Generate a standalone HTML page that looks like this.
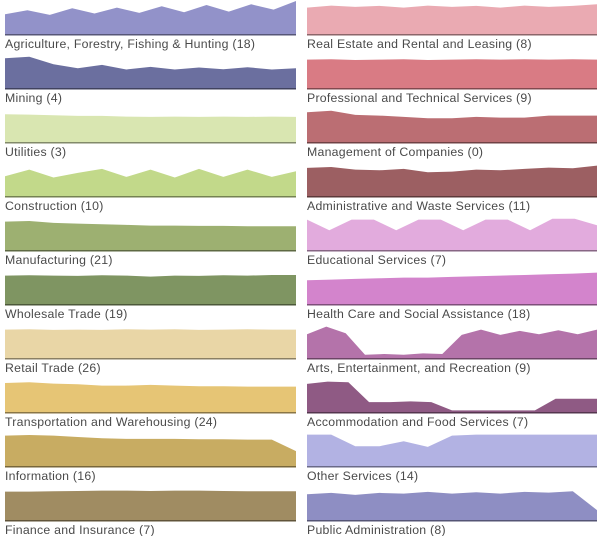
<!DOCTYPE html>
<html><head><meta charset="utf-8"><style>
body{margin:0;background:#fff;width:599px;height:536px;overflow:hidden;font-family:"Liberation Sans",sans-serif}
svg{display:block}
</style></head><body>
<svg id="chart" width="599" height="536"></svg>
<script>
const categories=["Agriculture, Forestry, Fishing & Hunting (18)","Mining (4)","Utilities (3)","Construction (10)","Manufacturing (21)","Wholesale Trade (19)","Retail Trade (26)","Transportation and Warehousing (24)","Information (16)","Finance and Insurance (7)","Real Estate and Rental and Leasing (8)","Professional and Technical Services (9)","Management of Companies (0)","Administrative and Waste Services (11)","Educational Services (7)","Health Care and Social Assistance (18)","Arts, Entertainment, and Recreation (9)","Accommodation and Food Services (7)","Other Services (14)","Public Administration (8)"];
const colors=["#9292c9","#6b6f9f","#d9e6b1","#c2d98a","#9db071","#7f9562","#e9d6a6","#e6c575","#c8ac62","#a08c62","#eaaab2","#d97b84","#bb6e73","#9c5f62","#e2abdd","#d384cc","#b473aa","#8f5a84","#b2b2e3","#8e8ec3"];
const s0=[0.6,0.72,0.58,0.78,0.62,0.8,0.64,0.84,0.66,0.88,0.68,0.9,0.74,1.0];
const s1=[0.9,0.95,0.72,0.6,0.7,0.56,0.64,0.56,0.62,0.57,0.63,0.56,0.6];
const s2=[0.84,0.83,0.81,0.79,0.79,0.77,0.76,0.77,0.76,0.77,0.76,0.77,0.76];
const s3=[0.6,0.8,0.56,0.7,0.82,0.58,0.8,0.56,0.82,0.58,0.8,0.58,0.75];
const s4=[0.86,0.88,0.82,0.8,0.78,0.76,0.74,0.74,0.73,0.73,0.72,0.72,0.72];
const s5=[0.86,0.87,0.86,0.85,0.87,0.86,0.83,0.86,0.85,0.87,0.86,0.88,0.88];
const s6=[0.86,0.87,0.85,0.86,0.85,0.87,0.86,0.87,0.85,0.86,0.87,0.86,0.86];
const s7=[0.88,0.9,0.86,0.84,0.8,0.8,0.82,0.8,0.78,0.78,0.77,0.77,0.77];
const s8=[0.92,0.94,0.92,0.88,0.84,0.82,0.82,0.82,0.81,0.81,0.8,0.8,0.45];
const s9=[0.86,0.86,0.87,0.88,0.89,0.89,0.88,0.89,0.89,0.88,0.87,0.87,0.87];
const s10=[0.8,0.86,0.82,0.85,0.8,0.86,0.82,0.85,0.8,0.86,0.82,0.85,0.9];
const s11=[0.86,0.87,0.85,0.86,0.87,0.85,0.86,0.87,0.86,0.87,0.86,0.87,0.86];
const s12=[0.9,0.95,0.82,0.8,0.76,0.72,0.72,0.76,0.74,0.74,0.8,0.8,0.8];
const s13=[0.85,0.88,0.8,0.78,0.82,0.72,0.74,0.8,0.78,0.82,0.86,0.84,0.92];
const s14=[0.92,0.6,0.92,0.92,0.6,0.92,0.92,0.6,0.92,0.92,0.6,0.95,0.95,0.75];
const s15=[0.72,0.74,0.76,0.78,0.8,0.8,0.82,0.84,0.86,0.88,0.9,0.92,0.95];
const s16=[0.72,0.95,0.75,0.1,0.12,0.1,0.14,0.12,0.7,0.86,0.7,0.82,0.72,0.84,0.72,0.86];
const s17=[0.85,0.92,0.9,0.3,0.3,0.32,0.3,0.05,0.05,0.05,0.05,0.05,0.4,0.4,0.4];
const s18=[0.95,0.95,0.6,0.6,0.75,0.58,0.92,0.95,0.95,0.95,0.95,0.95,0.95];
const s19=[0.78,0.82,0.76,0.82,0.8,0.85,0.8,0.84,0.8,0.85,0.83,0.87,0.3];
const series=[s0,s1,s2,s3,s4,s5,s6,s7,s8,s9,s10,s11,s12,s13,s14,s15,s16,s17,s18,s19];
const NS="http://www.w3.org/2000/svg";
const svg=document.getElementById('chart');
const colX=[5,307],colW=[291,290],rowH=54,chartH=34;
function xScale(i,n,col){return colX[col]+i/(n-1)*colW[col];}
function yScale(v,row){return row*rowH+chartH-v*(chartH-1);}
function darken(h,f){const n=parseInt(h.slice(1),16);const r=(n>>16)*f|0,g=((n>>8)&255)*f|0,b=(n&255)*f|0;return`rgb(${r},${g},${b})`;}
categories.forEach((cat,k)=>{
  const col=k<10?0:1,row=k%10,d=series[k],n=d.length;
  const g=document.createElementNS(NS,'g');
  
  
  let p=`M${colX[col]},${row*rowH+chartH}`;
  d.forEach((v,i)=>{p+=` L${xScale(i,n,col).toFixed(1)},${yScale(v,row).toFixed(1)}`;});
  p+=` L${colX[col]+colW[col]},${row*rowH+chartH} Z`;
  const a=document.createElementNS(NS,'path');
  a.setAttribute('d',p);a.setAttribute('fill',colors[k]);
  
  
  g.appendChild(a);
  const l=document.createElementNS(NS,'rect');
  l.setAttribute('x',colX[col]);l.setAttribute('y',row*rowH+chartH);
  l.setAttribute('width',colW[col]);l.setAttribute('height',1.5);
  l.setAttribute('fill',darken(colors[k],0.6));
  
  
  g.appendChild(l);
  const t=document.createElementNS(NS,'text');
  t.setAttribute('x',colX[col]);t.setAttribute('y',row*rowH+48);
  t.setAttribute('font-size','12.3');t.setAttribute('fill','#4a4a4a');
  t.setAttribute('letter-spacing','0.25');
  
  
  t.textContent=cat;
  g.appendChild(t);
  svg.appendChild(g);
});
</script>
</body></html>
